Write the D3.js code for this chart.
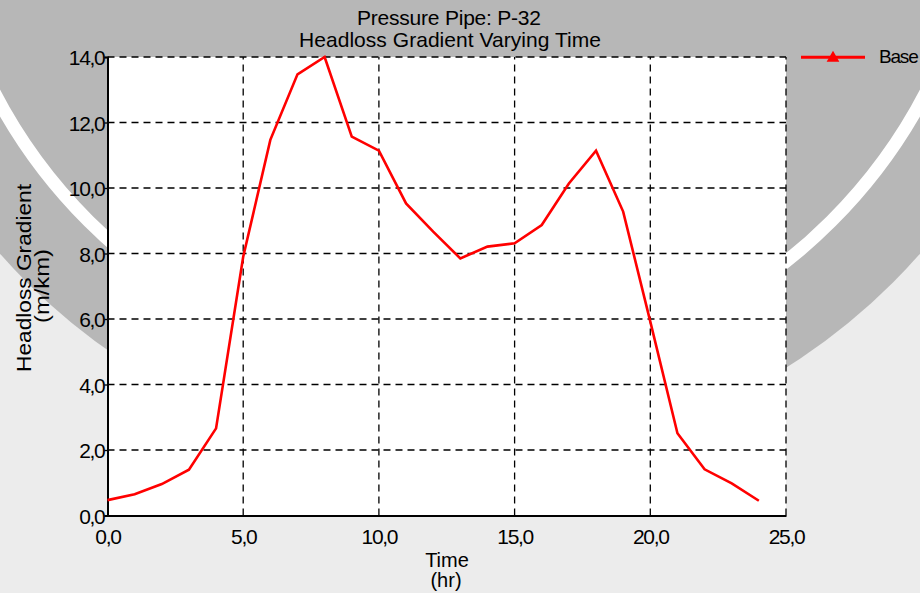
<!DOCTYPE html>
<html>
<head>
<meta charset="utf-8">
<script src="https://cdn.jsdelivr.net/npm/d3@7"></script>
<style>
  html, body { margin: 0; padding: 0; background: #ececec; }
  svg { display: block; }
  text { font-family: "Liberation Sans", Arial, sans-serif; }
</style>
</head>
<body>
<svg id="chart" width="920" height="593"></svg>
<script>
// ---- data ----
const hours = [0,1,2,3,4,5,6,7,8,9,10,11,12,13,14,15,16,17,18,19,20,21,22,23,24];
const headloss = [0.47,0.65,0.96,1.40,2.66,7.90,11.47,13.47,14.00,11.57,11.14,9.53,8.67,7.85,8.21,8.31,8.87,10.14,11.14,9.28,5.92,2.51,1.41,0.98,0.45];
const xTicks = [0,5,10,15,20,25];
const yTicks = [0,2,4,6,8,10,12,14];
const titleLines = ["Pressure Pipe: P-32", "Headloss Gradient Varying Time"];
const seriesName = "Base";

const fmt = v => v.toFixed(1).replace(".", ",");

const svg = d3.select("#chart");
const W = 920, H = 593;

// ---- background (grey disc with white ring, light lower part) ----
const bg = svg.append("g");
bg.append("rect").attr("width", W).attr("height", H).attr("fill", "#ececec");
bg.append("circle").attr("cx", 460).attr("cy", -150).attr("r", 612).attr("fill", "#b7b7b7");
bg.append("circle").attr("cx", 460).attr("cy", -150).attr("r", 525)
  .attr("fill", "none").attr("stroke", "#ffffff").attr("stroke-width", 13);

// ---- scales ----
const x = d3.scaleLinear().domain([0, 25]).range([107.5, 786]);
const y = d3.scaleLinear().domain([0, 14]).range([515.5, 57]);

// plot area
svg.append("rect")
  .attr("x", x(0)).attr("y", y(14))
  .attr("width", x(25) - x(0)).attr("height", y(0) - y(14))
  .attr("fill", "#ffffff");

// grid lines (dashed)
const grid = svg.append("g").attr("stroke", "#000").attr("stroke-width", 1.3)
  .attr("stroke-dasharray", "7,5");
grid.selectAll(".gx").data(xTicks.filter(d => d > 0)).join("line")
  .attr("x1", d => x(d)).attr("x2", d => x(d))
  .attr("y1", y(0)).attr("y2", y(14));
grid.selectAll(".gy").data(yTicks.filter(d => d > 0)).join("line")
  .attr("x1", x(0)).attr("x2", x(25))
  .attr("y1", d => y(d)).attr("y2", d => y(d));

// axes
const xAxis = svg.append("g").attr("transform", `translate(0,${y(0)})`)
  .call(d3.axisBottom(x).tickValues(xTicks).tickFormat(fmt).tickSize(0).tickPadding(14));
const yAxis = svg.append("g").attr("transform", `translate(${x(0)},0)`)
  .call(d3.axisLeft(y).tickValues(yTicks).tickFormat(fmt).tickSize(3).tickPadding(0));
[xAxis, yAxis].forEach(a => {
  a.select(".domain").attr("stroke", "#000").attr("stroke-width", 2);
  a.selectAll("text").attr("font-size", 21).attr("fill", "#000")
    .attr("font-family", "Liberation Sans, Arial, sans-serif")
    .attr("letter-spacing", -1.3);
  a.selectAll(".tick line").attr("stroke", "#000").attr("stroke-width", 1.3);
});
yAxis.selectAll("text").attr("dy", "0.36em");

// data line
const line = d3.line().x((d, i) => x(hours[i])).y(d => y(d));
svg.append("path").datum(headloss)
  .attr("d", line)
  .attr("fill", "none").attr("stroke", "#ff0000").attr("stroke-width", 2.6)
  .attr("stroke-linejoin", "miter");

// titles
svg.append("text").attr("x", 449).attr("y", 25).attr("text-anchor", "middle")
  .attr("font-size", 21).attr("textLength", 184).attr("lengthAdjust", "spacing")
  .text(titleLines[0]);
svg.append("text").attr("x", 450).attr("y", 47).attr("text-anchor", "middle")
  .attr("font-size", 21).attr("textLength", 302).attr("lengthAdjust", "spacing")
  .text(titleLines[1]);

// axis titles
svg.append("text").attr("transform", "translate(31,278) rotate(-90)")
  .attr("text-anchor", "middle").attr("font-size", 21)
  .attr("textLength", 188).attr("lengthAdjust", "spacingAndGlyphs").text("Headloss Gradient");
svg.append("text").attr("transform", "translate(49,286) rotate(-90)")
  .attr("text-anchor", "middle").attr("font-size", 21)
  .attr("textLength", 74).attr("lengthAdjust", "spacingAndGlyphs").text("(m/km)");
svg.append("text").attr("x", 447).attr("y", 567).attr("text-anchor", "middle")
  .attr("font-size", 20).text("Time");
svg.append("text").attr("x", 446).attr("y", 587).attr("text-anchor", "middle")
  .attr("font-size", 20).text("(hr)");

// legend
const lg = svg.append("g");
lg.append("line").attr("x1", 801).attr("x2", 865).attr("y1", 57.3).attr("y2", 57.3)
  .attr("stroke", "#ff0000").attr("stroke-width", 3);
lg.append("path").attr("d", d3.symbol(d3.symbolTriangle, 70)())
  .attr("transform", "translate(833,58)").attr("fill", "#ff0000");
lg.append("text").attr("x", 879).attr("y", 63).attr("font-size", 19)
  .attr("letter-spacing", -1.2).text(seriesName);
</script>
</body>
</html>
